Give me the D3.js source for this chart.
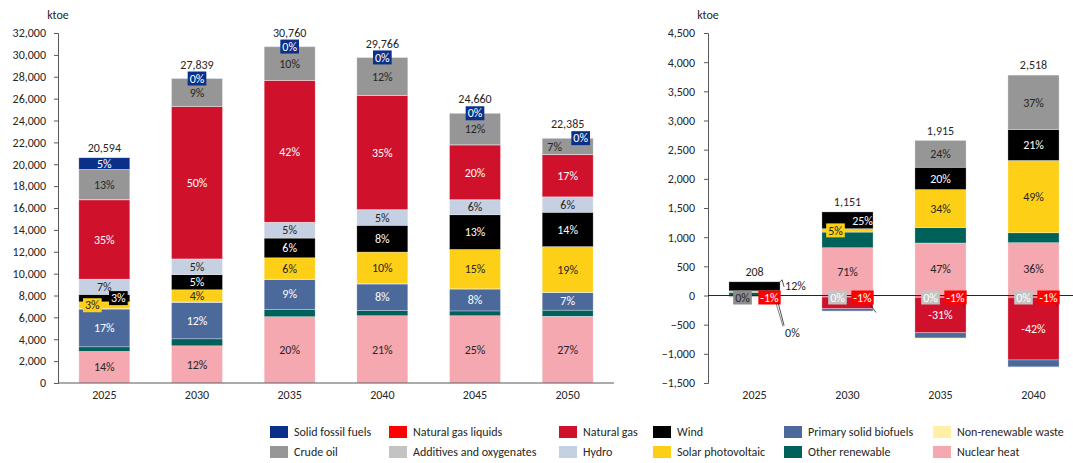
<!DOCTYPE html>
<html>
<head>
<meta charset="utf-8">
<script src="https://cdn.jsdelivr.net/npm/d3@7"></script>
<style>
body { margin: 0; background: #fff; }
text { font-family: Carlito, Calibri, Lato, sans-serif; }
</style>
</head>
<body>
<svg id="chart" width="1073" height="463"></svg>
<script>
// ---- left chart data (ktoe) ----
var years = ["2025", "2030", "2035", "2040", "2045", "2050"];
var totals = [20594, 27839, 30760, 29766, 24660, 22385];
var nuclear   = [2890, 3400, 6060, 6150, 6150, 6100];
var other     = [420, 640, 680, 480, 440, 560];
var bio       = [3450, 3340, 2740, 2420, 2000, 1620];
var waste     = [40, 30, 20, 20, 20, 20];
var solar     = [620, 1114, 1950, 2900, 3600, 4170];
var wind      = [680, 1380, 1800, 2450, 3170, 3140];
var hydro     = [1380, 1430, 1440, 1420, 1370, 1400];
var additives = [14, 10, 10, 10, 10, 10];
var ng        = [7250, 13920, 12960, 10420, 5000, 3850];
var ngl       = [30, 20, 20, 20, 20, 20];
var crude     = [2760, 2540, 3060, 3470, 2860, 1480];
var solid     = [1060, 15, 20, 6, 20, 15];

// data labels (share of total)
var nuclearLbl = ["14%", "12%", "20%", "21%", "25%", "27%"];
var bioLbl     = ["17%", "12%", "9%", "8%", "8%", "7%"];
var solarLbl   = ["3%", "4%", "6%", "10%", "15%", "19%"];
var windLbl    = ["3%", "5%", "6%", "8%", "13%", "14%"];
var hydroLbl   = ["7%", "5%", "5%", "5%", "6%", "6%"];
var ngLbl      = ["35%", "50%", "42%", "35%", "20%", "17%"];
var crudeLbl   = ["13%", "9%", "10%", "12%", "12%", "7%"];
var solidLbl   = ["5%", "0%", "0%", "0%", "0%", "0%"];

var leftTicks = [0, 2000, 4000, 6000, 8000, 10000, 12000, 14000, 16000, 18000, 20000, 22000, 24000, 26000, 28000, 30000, 32000];

// ---- right chart data (ktoe, change) ----
var years2 = ["2025", "2030", "2035", "2040"];
var rTotals = [208, 1151, 1915, 2518];
var rNuclear   = [0, 819, 900, 905];
var rOther     = [55, 268, 265, 170];
var rBio       = [-7, -40, -90, -120];
var rWaste     = [0, -15, -15, -15];
var rSolar     = [25, 58, 651, 1240];
var rWind      = [155, 288, 383, 530];
var rHydro     = [0, 0, 0, 0];
var rAdditives = [0, 0, 0, 0];
var rNg        = [-15, -200, -605, -1065];
var rNgl       = [-2, -12, -19, -25];
var rCrude     = [0, 0, 460, 933];
var rSolid     = [-3, -15, -15, -15];

var rNuclearLbl   = ["", "71%", "47%", "36%"];
var rSolarLbl     = ["12%", "5%", "34%", "49%"];
var rWindLbl      = ["", "25%", "20%", "21%"];
var rCrudeLbl     = ["0%", "", "24%", "37%"];
var rAdditivesLbl = ["", "0%", "0%", "0%"];
var rNglLbl       = ["-1%", "-1%", "-1%", "-1%"];
var rNgLbl        = ["", "", "-31%", "-42%"];
var rWasteLbl     = ["0%", "", "", ""];

var rightTicks = [-1500, -1000, -500, 0, 500, 1000, 1500, 2000, 2500, 3000, 3500, 4000, 4500];

// ---- series / legend ----
var names = {
  solid: "Solid fossil fuels", ngl: "Natural gas liquids", ng: "Natural gas", wind: "Wind",
  bio: "Primary solid biofuels", waste: "Non-renewable waste", crude: "Crude oil",
  additives: "Additives and oxygenates", hydro: "Hydro", solar: "Solar photovoltaic",
  other: "Other renewable", nuclear: "Nuclear heat"
};
var colors = {
  solid: "#0b3089", ngl: "#ff0000", ng: "#d0112b", wind: "#000000",
  bio: "#4b6a9b", waste: "#fff0a6", crude: "#969696", additives: "#c3c3c3",
  hydro: "#c5d0e2", solar: "#fdd017", other: "#00615a", nuclear: "#f5a8b0"
};
var legendRow1 = ["solid", "ngl", "ng", "wind", "bio", "waste"];
var legendRow2 = ["crude", "additives", "hydro", "solar", "other", "nuclear"];

var dark = "#262626";
var fs = 12;
var svg = d3.select("#chart");
var fmt = d3.format(",");

function textColor(k) {
  return (k == "solid" || k == "ng" || k == "wind" || k == "bio" || k == "ngl" || k == "additives") ? "#fff" : dark;
}

// a label on a coloured box
function boxLabel(g, x, y, txt, fill, col) {
  var t = g.append("text").attr("x", x).attr("y", y).attr("dy", "0.35em")
    .attr("text-anchor", "middle").attr("font-size", fs).attr("fill", col).text(txt);
  var w = t.node().getComputedTextLength() + 4;
  g.insert("rect", function () { return t.node(); })
    .attr("x", x - w / 2).attr("y", y - 7).attr("width", w).attr("height", 14).attr("fill", fill);
}

function plainLabel(g, x, y, txt, col, anchor) {
  g.append("text").attr("x", x).attr("y", y).attr("dy", "0.35em")
    .attr("text-anchor", anchor || "middle").attr("font-size", fs).attr("fill", col).text(txt);
}

// ================= LEFT CHART =================
var leftKeys = ["nuclear", "other", "bio", "waste", "solar", "wind", "hydro", "additives", "ng", "ngl", "crude", "solid"];
var leftVals = { nuclear: nuclear, other: other, bio: bio, waste: waste, solar: solar, wind: wind, hydro: hydro,
  additives: additives, ng: ng, ngl: ngl, crude: crude, solid: solid };
var leftLbls = { nuclear: nuclearLbl, bio: bioLbl, solar: solarLbl, wind: windLbl, hydro: hydroLbl,
  ng: ngLbl, crude: crudeLbl, solid: solidLbl };

var leftRows = years.map(function (y, i) {
  var o = { year: y };
  leftKeys.forEach(function (k) { o[k] = leftVals[k][i]; });
  return o;
});

var xL = d3.scaleBand().domain(years).range([58, 614]).paddingInner(0.45).paddingOuter(0.225);
var yL = d3.scaleLinear().domain([0, 32000]).range([383, 33]);

var gL = svg.append("g");
var stackL = d3.stack().keys(leftKeys)(leftRows);

gL.selectAll(".serL").data(stackL).enter().append("g")
  .attr("fill", function (s) { return colors[s.key]; })
  .selectAll("rect").data(function (s) { return s; }).enter().append("rect")
  .attr("x", function (d) { return xL(d.data.year); })
  .attr("width", xL.bandwidth())
  .attr("y", function (d) { return yL(d[1]); })
  .attr("height", function (d) { return yL(d[0]) - yL(d[1]); })
  .attr("stroke", "#fff").attr("stroke-width", 0.6).attr("stroke-opacity", 0.5);

// axes
gL.append("g").attr("transform", "translate(58,0)")
  .call(d3.axisLeft(yL).tickValues(leftTicks).tickFormat(fmt).tickSize(4).tickPadding(8))
  .call(function (a) {
    a.select(".domain").attr("stroke", "#595959");
    a.selectAll(".tick line").attr("stroke", "#595959");
    a.selectAll("text").attr("font-size", fs).attr("fill", dark).attr("font-family", "Carlito, Calibri, Lato, sans-serif");
  });
gL.append("line").attr("x1", 58).attr("x2", 614).attr("y1", 383).attr("y2", 383).attr("stroke", "#595959");
gL.selectAll(".xlab").data(years).enter().append("text")
  .attr("x", function (d) { return xL(d) + xL.bandwidth() / 2; }).attr("y", 395).attr("dy", "0.35em")
  .attr("text-anchor", "middle").attr("font-size", fs).attr("fill", dark).text(function (d) { return d; });
gL.append("text").attr("x", 58).attr("y", 15).attr("dy", "0.35em").attr("text-anchor", "middle")
  .attr("font-size", fs).attr("fill", dark).text("ktoe");

// labels
var labL = svg.append("g");
stackL.forEach(function (s) {
  var lbls = leftLbls[s.key];
  if (!lbls) return;
  s.forEach(function (d, i) {
    var txt = lbls[i];
    var cx = xL(d.data.year) + xL.bandwidth() / 2;
    var y0 = yL(d[0]), y1 = yL(d[1]);
    var h = y0 - y1, cy = (y0 + y1) / 2;
    if (s.key == "solid") {
      if (h > 10) plainLabel(labL, cx, cy, txt, "#fff");
      else {
        var shift = (yL(d[0] - crude[i]) - y1 < 18) ? 13 : 0;
        boxLabel(labL, cx + shift, y1, txt, colors.solid, "#fff");
      }
    } else if (s.key == "crude") {
      var sh = (h < 18) ? -13 : 0;
      plainLabel(labL, cx + sh, cy, txt, dark);
    } else if (h < 10) {
      // thin segments: boxed and nudged sideways
      var dx = (s.key == "solar") ? -12 : 14;
      boxLabel(labL, cx + dx, cy, txt, colors[s.key], textColor(s.key));
    } else {
      plainLabel(labL, cx, cy, txt, textColor(s.key));
    }
  });
});
// totals
years.forEach(function (y, i) {
  var off = (yL(totals[i] - solid[i]) - yL(totals[i]) > 10) ? 10 : 14;
  plainLabel(labL, xL(y) + xL.bandwidth() / 2, yL(totals[i]) - off, fmt(totals[i]), dark);
});

// ================= RIGHT CHART =================
var rightKeys = ["solid", "ngl", "additives", "ng", "bio", "waste", "nuclear", "other", "solar", "wind", "hydro", "crude"];
var rightVals = { nuclear: rNuclear, other: rOther, bio: rBio, waste: rWaste, solar: rSolar, wind: rWind, hydro: rHydro,
  additives: rAdditives, ng: rNg, ngl: rNgl, crude: rCrude, solid: rSolid };
var rightRows = years2.map(function (y, i) {
  var o = { year: y };
  rightKeys.forEach(function (k) { o[k] = rightVals[k][i]; });
  return o;
});

var xR = d3.scaleBand().domain(years2).range([708, 1080]).paddingInner(0.45).paddingOuter(0.225);
var yR = d3.scaleLinear().domain([-1500, 4500]).range([383, 33]);
var stackR = d3.stack().keys(rightKeys).offset(d3.stackOffsetDiverging)(rightRows);

var gR = svg.append("g");
gR.selectAll(".serR").data(stackR).enter().append("g")
  .attr("fill", function (s) { return colors[s.key]; })
  .selectAll("rect").data(function (s) { return s; }).enter().append("rect")
  .attr("x", function (d) { return xR(d.data.year); })
  .attr("width", xR.bandwidth())
  .attr("y", function (d) { return yR(Math.max(d[0], d[1])); })
  .attr("height", function (d) { return Math.abs(yR(d[0]) - yR(d[1])); })
  .attr("stroke", "#fff").attr("stroke-width", 0.6).attr("stroke-opacity", 0.5);

gR.append("g").attr("transform", "translate(708,0)")
  .call(d3.axisLeft(yR).tickValues(rightTicks).tickFormat(fmt).tickSize(4).tickPadding(9))
  .call(function (a) {
    a.select(".domain").attr("stroke", "#595959");
    a.selectAll(".tick line").attr("stroke", "#595959");
    a.selectAll("text").attr("font-size", fs).attr("fill", dark).attr("font-family", "Carlito, Calibri, Lato, sans-serif");
  });
var y0R = yR(0);
gR.append("line").attr("x1", 708).attr("x2", 1073).attr("y1", y0R).attr("y2", y0R).attr("stroke", "#262626");
gR.selectAll(".xlab").data(years2).enter().append("text")
  .attr("x", function (d) { return xR(d) + xR.bandwidth() / 2; }).attr("y", 395).attr("dy", "0.35em")
  .attr("text-anchor", "middle").attr("font-size", fs).attr("fill", dark).text(function (d) { return d; });
gR.append("text").attr("x", 708).attr("y", 15).attr("dy", "0.35em").attr("text-anchor", "middle")
  .attr("font-size", fs).attr("fill", dark).text("ktoe");

var labR = svg.append("g");
var segR = {};
stackR.forEach(function (s) { segR[s.key] = s; });

years2.forEach(function (y, i) {
  var cx = xR(y) + xR.bandwidth() / 2;
  var right = xR(y) + xR.bandwidth();
  function mid(k) { var d = segR[k][i]; return (yR(d[0]) + yR(d[1])) / 2; }
  function hgt(k) { var d = segR[k][i]; return Math.abs(yR(d[0]) - yR(d[1])); }

  if (rNuclearLbl[i]) plainLabel(labR, cx, mid("nuclear"), rNuclearLbl[i], dark);
  if (rNgLbl[i]) plainLabel(labR, cx, mid("ng"), rNgLbl[i], "#fff");
  if (rCrudeLbl[i]) {
    if (rCrude[i] == 0) boxLabel(labR, cx - 12, y0R + 2, rCrudeLbl[i], "#8c8c8c", dark);
    else plainLabel(labR, cx, mid("crude"), rCrudeLbl[i], dark);
  }
  if (rAdditivesLbl[i]) boxLabel(labR, cx - 10, y0R + 2, rAdditivesLbl[i], colors.additives, "#fff");
  if (rNglLbl[i]) boxLabel(labR, cx + 15, y0R + 2, rNglLbl[i], colors.ngl, "#fff");

  var solarThin = hgt("solar") < 10;
  if (rSolarLbl[i]) {
    if (i == 0) {
      // outside label with leader
      var ty = yR(d3.max(segR.wind[i])) + 4;
      labR.append("path").attr("d", d3.line()([[right - 1, ty - 3], [right + 2, ty - 6], [right + 4, ty + 1]]))
        .attr("fill", "none").attr("stroke", dark).attr("stroke-width", 0.8);
      plainLabel(labR, right + 5, ty, rSolarLbl[i], dark, "start");
    } else if (solarThin) {
      boxLabel(labR, cx - 12, mid("solar"), rSolarLbl[i], colors.solar, dark);
    } else {
      plainLabel(labR, cx, mid("solar"), rSolarLbl[i], dark);
    }
  }
  if (rWindLbl[i]) plainLabel(labR, cx + (solarThin ? 15 : 0), mid("wind"), rWindLbl[i], "#fff");
  if (rWasteLbl[i]) {
    labR.append("path").attr("d", d3.line()([[right - 2, y0R + 7], [right + 4, y0R + 30]]))
      .attr("fill", "none").attr("stroke", dark).attr("stroke-width", 0.8);
    labR.append("path").attr("d", d3.line()([[right - 4, y0R + 8], [right + 3, y0R + 31]]))
      .attr("fill", "none").attr("stroke", dark).attr("stroke-width", 0.6);
    plainLabel(labR, right + 5, y0R + 37, rWasteLbl[i], dark, "start");
  } else {
    // leader stubs of hidden labels
    var len = (i == 1) ? 8 : 2;
    labR.append("line").attr("x1", right - 3).attr("x2", right - 3 + len * 0.75)
      .attr("y1", y0R + 9).attr("y2", y0R + 9 + len)
      .attr("stroke", dark).attr("stroke-width", 0.8);
  }
  // total
  var top = d3.max(rightKeys, function (k) { return segR[k][i][1]; });
  plainLabel(labR, cx, yR(top) - 10, fmt(rTotals[i]), dark);
});

// ================= LEGEND =================
var legCols = [270, 389, 559, 653, 784, 933];
var leg = svg.append("g");
[legendRow1, legendRow2].forEach(function (row, r) {
  var cy = 432 + r * 20;
  row.forEach(function (k, c) {
    leg.append("rect").attr("x", legCols[c]).attr("y", cy - 6).attr("width", 18).attr("height", 12)
      .attr("fill", colors[k]);
    leg.append("text").attr("x", legCols[c] + 24).attr("y", cy).attr("dy", "0.35em")
      .attr("font-size", fs).attr("fill", dark).text(names[k]);
  });
});
</script>
</body>
</html>
